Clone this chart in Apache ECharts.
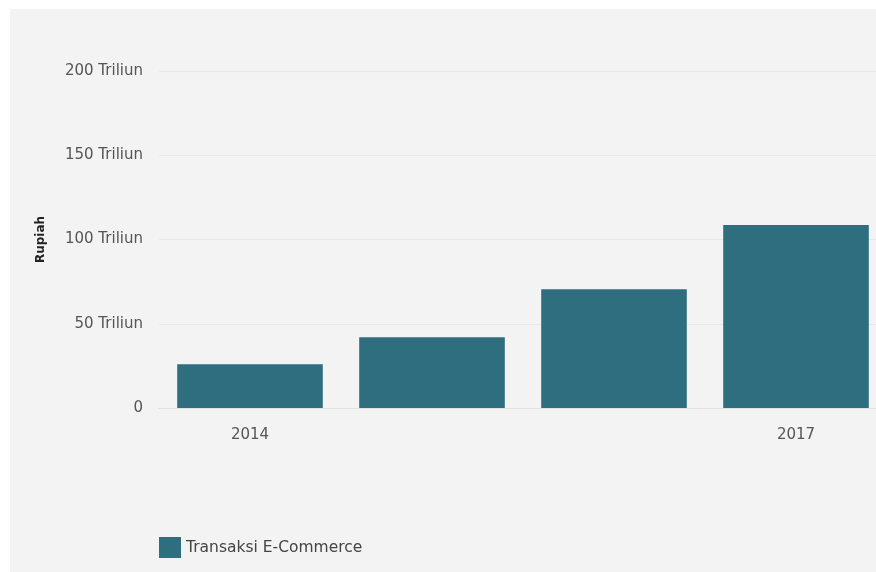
<!DOCTYPE html>
<html>

<head>
    <title>Transaksi E-Commerce</title>
    <meta charset="utf-8">
    <script src="https://cdn.jsdelivr.net/npm/echarts@6/dist/echarts.min.js"></script>
    <style>
        html, body { margin: 0; background: #ffffff; overflow: hidden; }
        #wrap { position: absolute; left: 10px; top: 9px; width: 866px; height: 563px; background: #f3f3f4; overflow: hidden; }
        #main { width: 900px; height: 563px; }
    </style>
</head>

<body>
    <div id="wrap"><div id="main"></div></div>

    <script type="text/javascript">
        // data (Rupiah, in trillions)
        var years = ['2014', '2015', '2016', '2017'];
        var transaksi = [26, 42, 70.5, 108.6];
        var seriesName = 'Transaksi E-Commerce';

        var myChart = echarts.init(document.getElementById('main'));

        var option = {
            textStyle: { fontFamily: 'DejaVu Sans' },
            legend: {
                data: [seriesName],
                icon: 'rect',
                left: 149,
                top: 528,
                padding: 0,
                itemWidth: 22,
                itemHeight: 21,
                itemGap: 6,
                textStyle: { fontSize: 15.5, color: '#444' }
            },
            grid: {
                left: 149,
                top: 62,
                width: 728,
                height: 337,
                containLabel: false
            },
            xAxis: {
                type: 'category',
                data: years,
                axisTick: { show: false },
                axisLine: { lineStyle: { color: '#e2e2e6' } },
                axisLabel: {
                    color: '#555',
                    fontSize: 15,
                    margin: 20,
                    interval: function (index) { return index === 0 || index === 3; }
                }
            },
            yAxis: {
                type: 'value',
                min: 0,
                max: 200,
                interval: 50,
                name: 'Rupiah',
                nameLocation: 'middle',
                nameGap: 112,
                nameTextStyle: { fontSize: 12, fontWeight: 'bold', color: '#222' },
                axisLabel: {
                    color: '#555',
                    fontSize: 15,
                    margin: 16,
                    formatter: function (v) { return v === 0 ? '0' : v + ' Triliun'; }
                },
                splitLine: { lineStyle: { color: '#e8e8ec' } }
            },
            series: [{
                name: seriesName,
                type: 'bar',
                data: transaksi,
                barCategoryGap: '20%',
                itemStyle: { color: '#2e6e7f' }
            }]
        };

        myChart.setOption(option);
    </script>
</body>

</html>
